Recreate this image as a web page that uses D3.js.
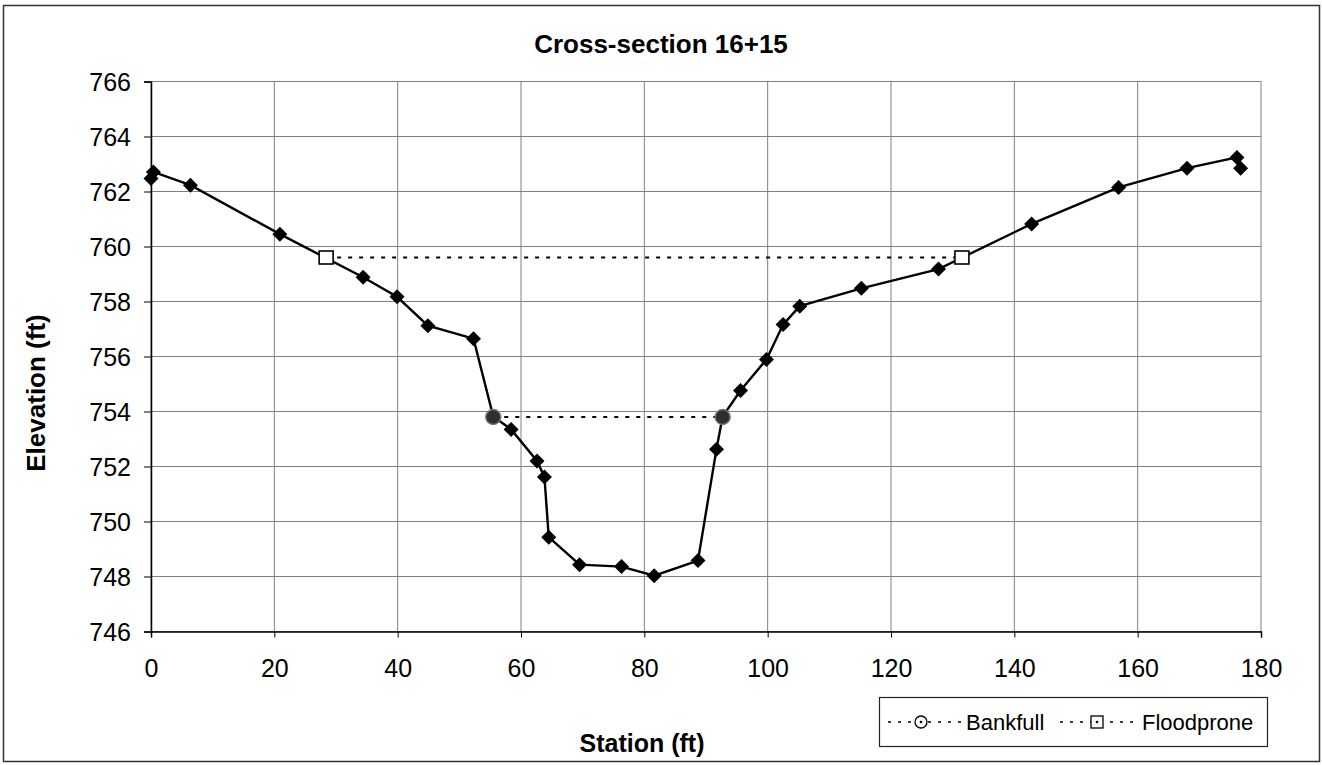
<!DOCTYPE html>
<html>
<head>
<meta charset="utf-8">
<script src="https://cdn.jsdelivr.net/npm/d3@7"></script>
<style>
  html, body { margin: 0; padding: 0; background: #fff; }
  svg { display: block; }
  text { font-family: "Liberation Sans", Arial, Helvetica, sans-serif; fill: #000; }
</style>
</head>
<body>
<svg id="chart" width="1322" height="765"></svg>
<script>
// ---- data ----
const title = "Cross-section 16+15";
const xLabel = "Station (ft)";
const yLabel = "Elevation (ft)";

const station = [0, 0.4, 6.4, 20.9, 34.4, 39.9, 44.9, 52.3, 55.5, 58.4, 62.6, 63.8, 64.5, 69.5, 76.3, 81.6, 88.7, 91.7, 92.7, 95.6, 99.8, 102.5, 105.2, 115.2, 127.7, 142.8, 156.9, 168.0, 176.1, 176.7];
const elevation = [762.47, 762.71, 762.23, 760.45, 758.88, 758.17, 757.12, 756.65, 753.82, 753.35, 752.2, 751.62, 749.43, 748.43, 748.36, 748.03, 748.58, 752.63, 753.82, 754.76, 755.89, 757.16, 757.83, 758.48, 759.18, 760.82, 762.15, 762.85, 763.24, 762.85];

const bankfullStation = [55.5, 92.7];
const bankfullElevation = [753.8, 753.8];
const floodproneStation = [28.4, 131.5];
const floodproneElevation = [759.6, 759.6];

const legendLabels = ["Bankfull", "Floodprone"];
const xTicks = [0, 20, 40, 60, 80, 100, 120, 140, 160, 180];
const yTicks = [746, 748, 750, 752, 754, 756, 758, 760, 762, 764, 766];

// ---- layout ----
const svg = d3.select("#chart");
const L = 151, R = 1261, T = 81.5, B = 631.5;
const x = d3.scaleLinear().domain([0, 180]).range([L, R]);
const y = d3.scaleLinear().domain([746, 766]).range([B, T]);

// outer border
svg.append("rect").attr("x", 3.5).attr("y", 5.5).attr("width", 1316).attr("height", 756)
  .attr("fill", "#fff").attr("stroke", "#333").attr("stroke-width", 1.5);

// gridlines
const grid = svg.append("g");
grid.selectAll("line.h").data(yTicks).join("line")
  .attr("x1", L).attr("x2", R).attr("y1", d => y(d)).attr("y2", d => y(d))
  .attr("stroke", "#808080").attr("stroke-width", 1);
grid.selectAll("line.v").data(xTicks).join("line")
  .attr("y1", T).attr("y2", B).attr("x1", d => x(d)).attr("x2", d => x(d))
  .attr("stroke", "#808080").attr("stroke-width", 1);

// axes
const xAxis = d3.axisBottom(x).tickValues(xTicks).tickSize(6).tickPadding(22).tickFormat(d3.format("d"));
const yAxis = d3.axisLeft(y).tickValues(yTicks).tickSize(7).tickPadding(13).tickFormat(d3.format("d"));

const gx = svg.append("g").attr("transform", `translate(0,${B})`).call(xAxis);
const gy = svg.append("g").attr("transform", `translate(${L},0)`).call(yAxis);
[gx, gy].forEach(g => {
  g.select(".domain").attr("stroke", "#000").attr("stroke-width", 1.5);
  g.selectAll(".tick line").attr("stroke", "#000").attr("stroke-width", 1);
  g.selectAll(".tick text").attr("font-size", 25).attr("font-family", "Liberation Sans, Arial, sans-serif").attr("fill", "#000");
});
gy.selectAll(".tick text").attr("dy", "0.36em");

// main series
const pts = station.map((s, i) => [s, elevation[i]]);
const line = d3.line().x(d => x(d[0])).y(d => y(d[1]));
svg.append("path").datum(pts).attr("d", line)
  .attr("fill", "none").attr("stroke", "#000").attr("stroke-width", 2.4);
const dia = "M0,-7.5L7.5,0L0,7.5L-7.5,0Z";
svg.append("g").selectAll("path").data(pts).join("path")
  .attr("d", dia).attr("transform", d => `translate(${x(d[0])},${y(d[1])})`)
  .attr("fill", "#000");

// bankfull
const bf = bankfullStation.map((s, i) => [s, bankfullElevation[i]]);
svg.append("path").datum(bf).attr("d", line)
  .attr("fill", "none").attr("stroke", "#000").attr("stroke-width", 2).attr("stroke-dasharray", "4,7");
svg.append("g").selectAll("circle").data(bf).join("circle")
  .attr("cx", d => x(d[0])).attr("cy", d => y(d[1])).attr("r", 7.5)
  .attr("fill", "#2e2e2e").attr("stroke", "#777").attr("stroke-width", 1.5);

// floodprone
const fp = floodproneStation.map((s, i) => [s, floodproneElevation[i]]);
svg.append("path").datum(fp).attr("d", line)
  .attr("fill", "none").attr("stroke", "#000").attr("stroke-width", 2).attr("stroke-dasharray", "4,7");
svg.append("g").selectAll("rect").data(fp).join("rect")
  .attr("x", d => x(d[0]) - 7).attr("y", d => y(d[1]) - 6.5).attr("width", 14).attr("height", 13)
  .attr("fill", "#fff").attr("stroke", "#000").attr("stroke-width", 1.6);

// titles
svg.append("text").attr("x", 661).attr("y", 53).attr("text-anchor", "middle")
  .attr("font-size", 26).attr("font-weight", "bold").text(title);
svg.append("text").attr("transform", "translate(45,393) rotate(-90)").attr("text-anchor", "middle")
  .attr("font-size", 26).attr("font-weight", "bold").text(yLabel);
svg.append("text").attr("x", 642).attr("y", 752).attr("text-anchor", "middle")
  .attr("font-size", 25).attr("font-weight", "bold").text(xLabel);

// legend
const lg = svg.append("g");
lg.append("rect").attr("x", 879.5).attr("y", 697.5).attr("width", 388).attr("height", 49)
  .attr("fill", "#fff").attr("stroke", "#222").attr("stroke-width", 1.2);
const ly = 722;
const items = [
  { x0: 888, x1: 963, mx: 921, tx: 966, shape: "circle", label: legendLabels[0] },
  { x0: 1060, x1: 1140, mx: 1097, tx: 1142, shape: "square", label: legendLabels[1] }
];
items.forEach(it => {
  lg.append("line").attr("x1", it.x0).attr("x2", it.x1).attr("y1", ly).attr("y2", ly)
    .attr("stroke", "#000").attr("stroke-width", 1.5).attr("stroke-dasharray", "3,7");
  if (it.shape === "circle") {
    lg.append("circle").attr("cx", it.mx).attr("cy", ly).attr("r", 6)
      .attr("fill", "#fff").attr("stroke", "#000").attr("stroke-width", 1.3);
  } else {
    lg.append("rect").attr("x", it.mx - 6).attr("y", ly - 6).attr("width", 12).attr("height", 12)
      .attr("fill", "#fff").attr("stroke", "#000").attr("stroke-width", 1.3);
  }
  lg.append("circle").attr("cx", it.mx).attr("cy", ly).attr("r", 1.3).attr("fill", "#000");
  lg.append("text").attr("x", it.tx).attr("y", ly + 7.5).attr("font-size", 22).text(it.label);
});
</script>
</body>
</html>
